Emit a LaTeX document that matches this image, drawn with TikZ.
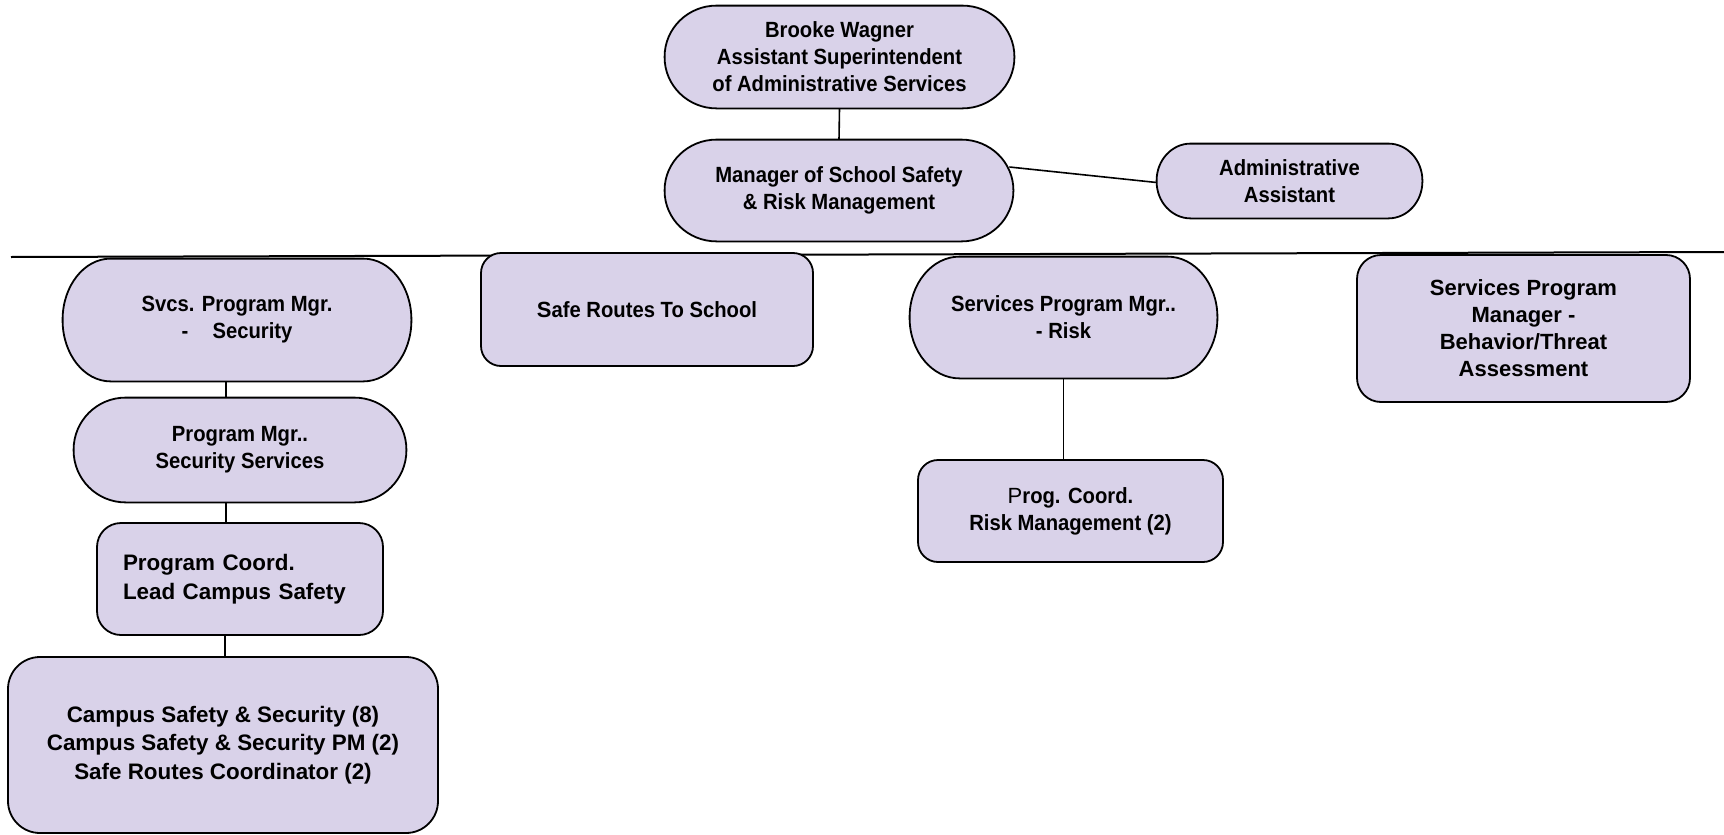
\documentclass[tikz,border=0pt]{standalone}
\usepackage{fontspec}
\setmainfont{Liberation Sans}
\newfontfamily\narrowfont[FakeStretch=0.92]{Liberation Sans}
\newfontfamily\wideff{Liberation Sans}
\definecolor{boxfill}{RGB}{217,210,233}
\pgfdeclarelayer{background}
\pgfsetlayers{background,main}
\tikzset{
  orgbox/.style={draw=black, line width=0.9pt, fill=boxfill, align=center, inner sep=0pt},
  ovalnode/.style={align=center, inner sep=0pt},
  ovalline/.style={draw=black, line width=0.9pt, fill=boxfill},
  nar/.style={font=\narrowfont\bfseries\fontsize{11}{13.5}\selectfont},
  wid/.style={font=\wideff\bfseries\fontsize{11}{13.5}\selectfont},
  widb/.style={font=\wideff\bfseries\fontsize{11.2}{14.3}\selectfont},
  link/.style={draw=black, line width=0.8pt}
}
% oval outline with elliptical corners: #1 node, #2 x radius, #3 y radius
\newcommand\ovaloutline[3]{%
  \begin{pgfonlayer}{background}
  \path[ovalline]
    ([xshift=#2]#1.north west) -- ([xshift=-#2]#1.north east)
    .. controls ([xshift={-0.448*#2}]#1.north east) and ([yshift={-0.448*#3}]#1.north east) ..
    ([yshift=-#3]#1.north east) -- ([yshift=#3]#1.south east)
    .. controls ([yshift={0.448*#3}]#1.south east) and ([xshift={-0.448*#2}]#1.south east) ..
    ([xshift=-#2]#1.south east) -- ([xshift=#2]#1.south west)
    .. controls ([xshift={0.448*#2}]#1.south west) and ([yshift={0.448*#3}]#1.south west) ..
    ([yshift=#3]#1.south west) -- ([yshift=-#3]#1.north west)
    .. controls ([yshift={-0.448*#3}]#1.north west) and ([xshift={0.448*#2}]#1.north west) ..
    cycle;
  \end{pgfonlayer}}
\begin{document}
\begin{tikzpicture}[x=0.5pt, y=-0.5pt]
\useasboundingbox (0,0) rectangle (1724,835);

% top level
\node[ovalnode, nar, minimum width=174.5pt, minimum height=51pt] (bw) at (839.5,57)
  {Brooke Wagner\\Assistant Superintendent\\of Administrative Services};
\ovaloutline{bw}{26pt}{25.5pt}
\node[ovalnode, nar, minimum width=174pt, minimum height=50.5pt] (mgr) at (839,190.5)
  {Manager of School Safety\\\& Risk Management};
\ovaloutline{mgr}{26pt}{25.25pt}
\node[ovalnode, nar, minimum width=132.5pt, minimum height=37pt] (adm) at (1289.5,181)
  {Administrative\\Assistant};
\ovaloutline{adm}{17pt}{18.5pt}

% separator line
\coordinate (hl) at (11,257);
\coordinate (hr) at (1724,252);
\draw[line width=1pt] (hl) -- (hr);

% second level
\node[ovalnode, nar, minimum width=174pt, minimum height=61pt] (svc) at (237,320)
  {Svcs. Program Mgr.\\-\hspace{1.1em}Security};
\ovaloutline{svc}{24pt}{30.5pt}
\node[orgbox, nar, minimum width=166pt, minimum height=56.5pt, rounded corners=10pt] (srts) at (647,309.5)
  {\raisebox{-2.5pt}{{\wideff\bfseries S}afe Routes To School}};
\node[ovalnode, nar, minimum width=153.5pt, minimum height=60.5pt] (spr) at (1063.5,317.5)
  {Services Program Mgr..\\- Risk};
\ovaloutline{spr}{25pt}{30.25pt}
\node[orgbox, wid, minimum width=166.5pt, minimum height=73.5pt, rounded corners=12pt] (bta) at (1523.5,328.5)
  {Services Program\\Manager -\\Behavior/Threat\\Assessment};

% security branch
\node[ovalnode, nar, minimum width=166pt, minimum height=52pt] (pms) at (240,450)
  {Program Mgr..\\Security Services};
\ovaloutline{pms}{26pt}{26pt}
\node[orgbox, widb, align=left, text width=117pt, minimum width=143pt, minimum height=56pt, rounded corners=12pt] (pcl) at (240,579)
  {Program Coord.\\Lead Campus Safety};
\node[orgbox, widb, minimum width=215pt, minimum height=88pt, rounded corners=16pt] (css) at (223,745)
  {Campus Safety \& Security (8)\\Campus Safety \& Security PM (2)\\Safe Routes Coordinator (2)};

% risk branch
\node[orgbox, nar, minimum width=152.5pt, minimum height=51pt, rounded corners=10pt] (pcr) at (1070.5,511)
  {{\wideff\mdseries P}rog. Coord.\\Risk Management (2)};

% connectors
\draw[link] (bw.south) -- (mgr.north);
\draw[link] ([xshift=-2pt,yshift=11.75pt]mgr.east) -- ([yshift=-0.75pt]adm.west);
\draw[link] ([xshift=-5.5pt]svc.south) -- ([xshift=-5.5pt]svc.south |- pms.north);
\draw[link] ([xshift=-7pt]pms.south) -- ([xshift=-7pt]pms.south |- pcl.north);
\draw[link] ([xshift=-7.5pt]pcl.south) -- ([xshift=-7.5pt]pcl.south |- css.north);
\draw[link] (spr.south) -- (spr.south |- pcr.north);
\end{tikzpicture}
\end{document}
